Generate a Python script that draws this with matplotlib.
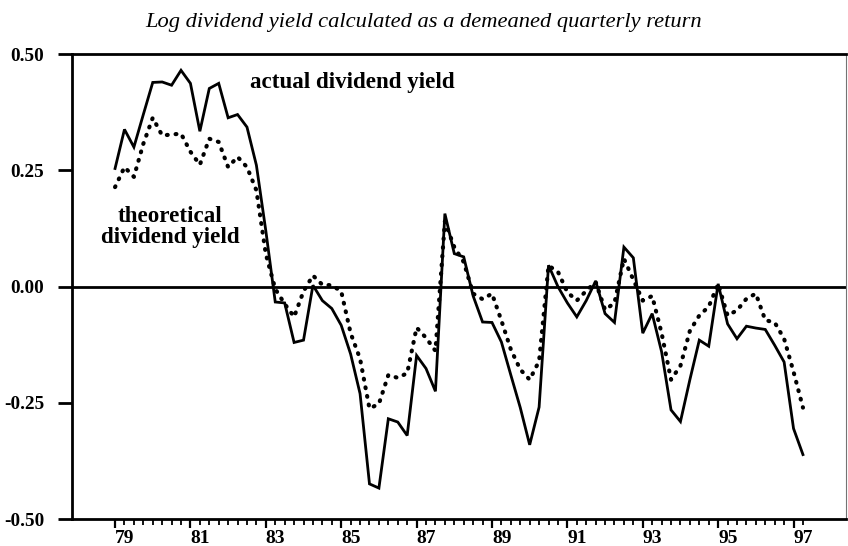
import numpy as np
import matplotlib
matplotlib.use("Agg")
import matplotlib.pyplot as plt

plt.rcParams['font.family'] = ['Liberation Serif', 'DejaVu Serif']

# quarterly observations, 1979Q1 - 1997Q2
start_year = 79
actual = [0.254, 0.338, 0.300, 0.37, 0.439, 0.44, 0.433, 0.465, 0.437, 0.334,
          0.426, 0.437, 0.363, 0.37, 0.343, 0.261, 0.12, -0.033, -0.035, -0.12,
          -0.115, 0.003, -0.03, -0.047, -0.083, -0.145, -0.23, -0.424, -0.433, -0.284,
          -0.291, -0.32, -0.148, -0.176, -0.225, 0.157, 0.071, 0.064, -0.02, -0.076,
          -0.077, -0.119, -0.19, -0.26, -0.34, -0.259, 0.046, 0.0, -0.035, -0.065,
          -0.03, 0.012, -0.058, -0.077, 0.085, 0.062, -0.1, -0.058, -0.14, -0.265,
          -0.29, -0.2, -0.115, -0.128, 0.006, -0.08, -0.112, -0.085, -0.089, -0.092,
          -0.126, -0.162, -0.305, -0.361]
theoretical = [0.214, 0.257, 0.236, 0.307, 0.363, 0.325, 0.327, 0.329, 0.29, 0.262,
               0.318, 0.311, 0.257, 0.279, 0.257, 0.207, 0.07, -0.005, -0.037, -0.065,
               -0.01, 0.024, 0.004, 0.003, -0.01, -0.1, -0.155, -0.262, -0.252, -0.19,
               -0.196, -0.186, -0.088, -0.11, -0.138, 0.14, 0.085, 0.053, -0.015, -0.027,
               -0.015, -0.073, -0.135, -0.178, -0.2, -0.16, 0.045, 0.032, -0.012, -0.03,
               -0.009, 0.01, -0.05, -0.035, 0.06, 0.015, -0.03, -0.02, -0.1, -0.2,
               -0.17, -0.095, -0.062, -0.043, 0.006, -0.062, -0.051, -0.026, -0.015, -0.072,
               -0.077, -0.112, -0.183, -0.26]
year_labels = ['79', '81', '83', '85', '87', '89', '91', '93', '95', '97']
y_ticks = [-0.50, -0.25, 0.00, 0.25, 0.50]

t = start_year + np.arange(len(actual)) / 4.0

fig = plt.figure(figsize=(8.48, 5.46), dpi=100)
ax = fig.add_axes([0.085, 0.049, 0.913, 0.852])

ax.axhline(0, color='k', lw=2.0, zorder=1)
ax.plot(t, actual, color='k', lw=2.0, solid_joinstyle='miter', zorder=3)
ax.plot(t, theoretical, color='k', lw=3.0, linestyle=(0, (0.2, 1.9)),
        dash_capstyle='round', zorder=2)

ax.set_xlim(77.86, 98.4)
ax.set_ylim(-0.5, 0.5)

ax.set_yticks(y_ticks)
ax.set_yticklabels([f'{v:.2f}' for v in y_ticks], fontweight='bold', fontsize=13.8)
major_x = [int(s) for s in year_labels]
ax.set_xticks(major_x)
ax.set_xticklabels(year_labels, fontweight='bold', fontsize=14)
for lbl in ax.get_xticklabels():
    lbl.set_horizontalalignment('left')
ax.set_xticks(np.arange(79, 97.26, 0.25), minor=True)

ax.tick_params(axis='y', direction='out', length=10, width=2, pad=10)
ax.tick_params(axis='x', which='major', direction='out', length=6.5, width=1.6, pad=1.5)
ax.tick_params(axis='x', which='minor', direction='out', length=4.3, width=1.3)

for side in ['left', 'top', 'bottom']:
    ax.spines[side].set_linewidth(2.0)
ax.spines['right'].set_linewidth(0.8)
ax.spines['right'].set_color('0.45')

ax.text(85.29, 0.439, 'actual dividend yield', ha='center', va='center',
        fontweight='bold', fontsize=16.6)
ax.text(80.46, 0.129, 'theoretical\ndividend yield', ha='center', va='center',
        fontweight='bold', fontsize=16.6, linespacing=1.0)

fig.text(0.5, 0.959, 'Log dividend yield calculated as a demeaned quarterly return',
         ha='center', va='center', style='italic', fontsize=16.2)

fig.savefig('out.png', dpi=100)
